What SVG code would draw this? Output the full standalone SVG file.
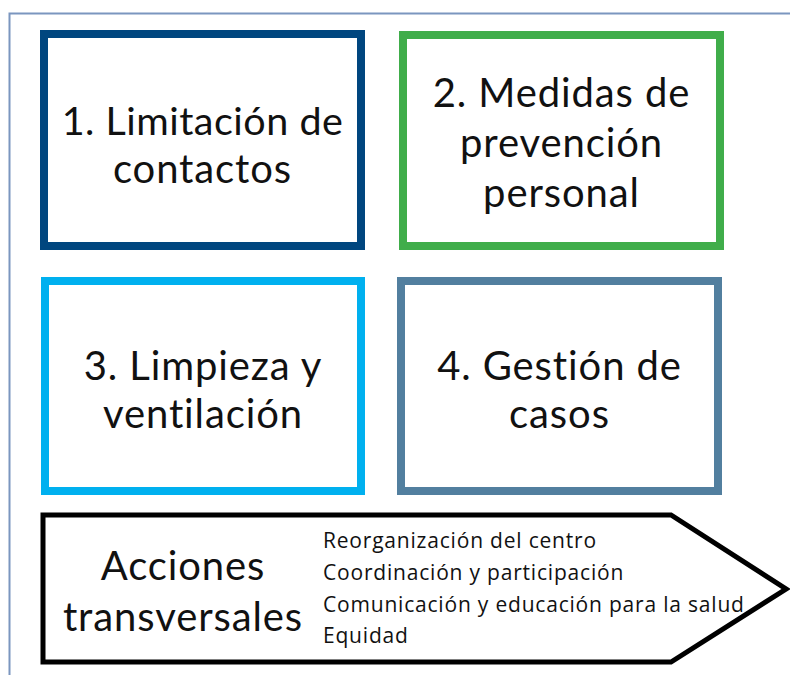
<svg xmlns="http://www.w3.org/2000/svg" width="790" height="675" viewBox="0 0 790 675">
<style>
.box{fill:#ffffff;stroke-width:8}
.big{font-family:Lato,"Liberation Sans",sans-serif;font-size:40px;letter-spacing:0.9px;fill:#111;text-anchor:middle}
.small{font-family:"Open Sans","Liberation Sans",sans-serif;font-size:21px;letter-spacing:0.8px;fill:#111}
</style>
<rect width="790" height="675" fill="#ffffff"/>
<path d="M9.5 675 V13.5 H790" fill="none" stroke="#7b96bf" stroke-width="2"/>
<g id="node1">
<rect class="box" x="44" y="34" width="317" height="212" stroke="#00467f"/>
<text class="big" x="202.5" y="135" style="letter-spacing:0.5px;font-size:39.5px">1. Limitación de</text>
<text class="big" x="202.5" y="183">contactos</text>
</g>
<g id="node2">
<rect class="box" x="403" y="35" width="317" height="211" stroke="#40ad4a"/>
<text class="big" x="561.5" y="107">2. Medidas de</text>
<text class="big" x="561.5" y="157">prevención</text>
<text class="big" x="561.5" y="207">personal</text>
</g>
<g id="node3">
<rect class="box" x="45" y="281" width="316" height="210" stroke="#00b0ef"/>
<text class="big" x="203" y="380">3. Limpieza y</text>
<text class="big" x="203" y="428">ventilación</text>
</g>
<g id="node4">
<rect class="box" x="401" y="281" width="317" height="210" stroke="#527f9f"/>
<text class="big" x="559.5" y="380">4. Gestión de</text>
<text class="big" x="559.5" y="428">casos</text>
</g>
<g id="node5">
<path d="M43 515 H671 L786 589 L671 662 H43 Z" fill="#ffffff" stroke="#000" stroke-width="5" stroke-linejoin="miter"/>
<text class="big" x="183" y="580">Acciones</text>
<text class="big" x="183" y="631">transversales</text>
<text class="small" x="323" y="548">Reorganización del centro</text>
<text class="small" x="323" y="580">Coordinación y participación</text>
<text class="small" x="323" y="612">Comunicación y educación para la salud</text>
<text class="small" x="323" y="643">Equidad</text>
</g>
<g id="connectors"></g>
</svg>
